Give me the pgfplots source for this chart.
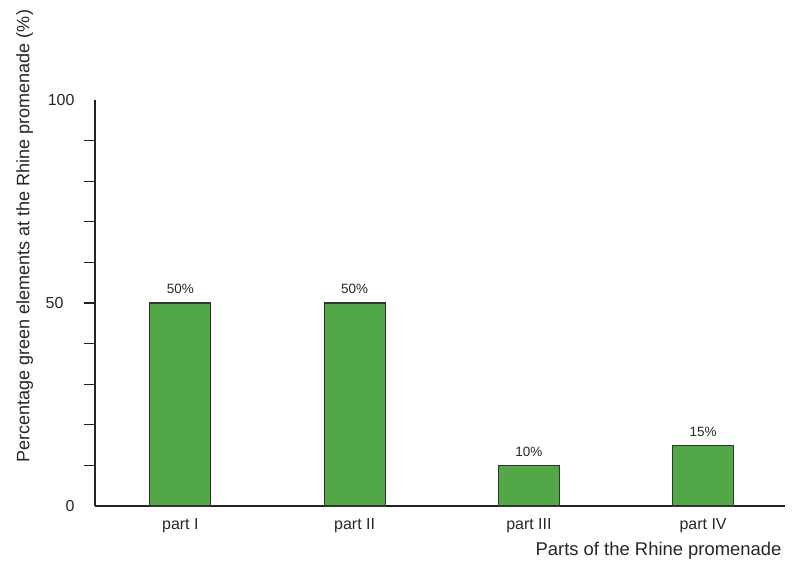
\documentclass[border=0pt]{standalone}
\usepackage{pgfplots}
\pgfplotsset{compat=1.18}
\usepackage{fontspec}
\setmainfont{Liberation Sans}
\definecolor{barg}{HTML}{52A846}
\definecolor{axc}{HTML}{222222}
\begin{document}
\begin{tikzpicture}
\begin{axis}[
  scale only axis,
  width=690bp, height=406bp,
  xmin=-0.49, xmax=3.47,
  ymin=0, ymax=100,
  axis x line=bottom, axis y line=left,
  axis line style={line width=2bp, color=axc, -},
  xtick={0,1,2,3},
  xticklabels={part I, part II, part III, part IV},
  xtick style={draw=none},
  ytick={10,20,...,90},
  yticklabels={,,,,50,,,,},
  extra y ticks={0,100},
  extra y tick labels={0,100},
  extra y tick style={major tick length=0pt},
  ytick style={line width=1.2bp, color=axc},
  tick align=outside,
  major tick length=11bp,
  /pgf/number format/assume math mode=true,
  tick label style={font=\fontsize{16}{18}\selectfont, color=black!85},
  yticklabel style={xshift=-17bp},
  xticklabel style={yshift=2bp},
  xlabel={Parts of the Rhine promenade},
  ylabel={Percentage green elements at the Rhine promenade (\%)},
  label style={color=black!85},
  xlabel style={font=\fontsize{18.5}{20}\selectfont, at={(rel axis cs:1,0)}, anchor=north east, yshift=-33bp},
  ylabel style={font=\fontsize{18.1}{20}\selectfont, at={(rel axis cs:-0.102,0.664)}, anchor=center},
  ybar, bar width=61bp,
  nodes near coords={\pgfmathprintnumber{\pgfplotspointmeta}\%},
  nodes near coords style={font=\fontsize{13.5}{15}\selectfont, color=black!85, yshift=5bp},
  clip=false,
]
\addplot[fill=barg, draw=black!80, line width=1.2bp] coordinates {(0,50) (1,50) (2,10) (3,15)};
\end{axis}
\path (current axis.south west) ++(-95bp,-61bp) rectangle ++(808bp,567bp);
\end{tikzpicture}
\end{document}
